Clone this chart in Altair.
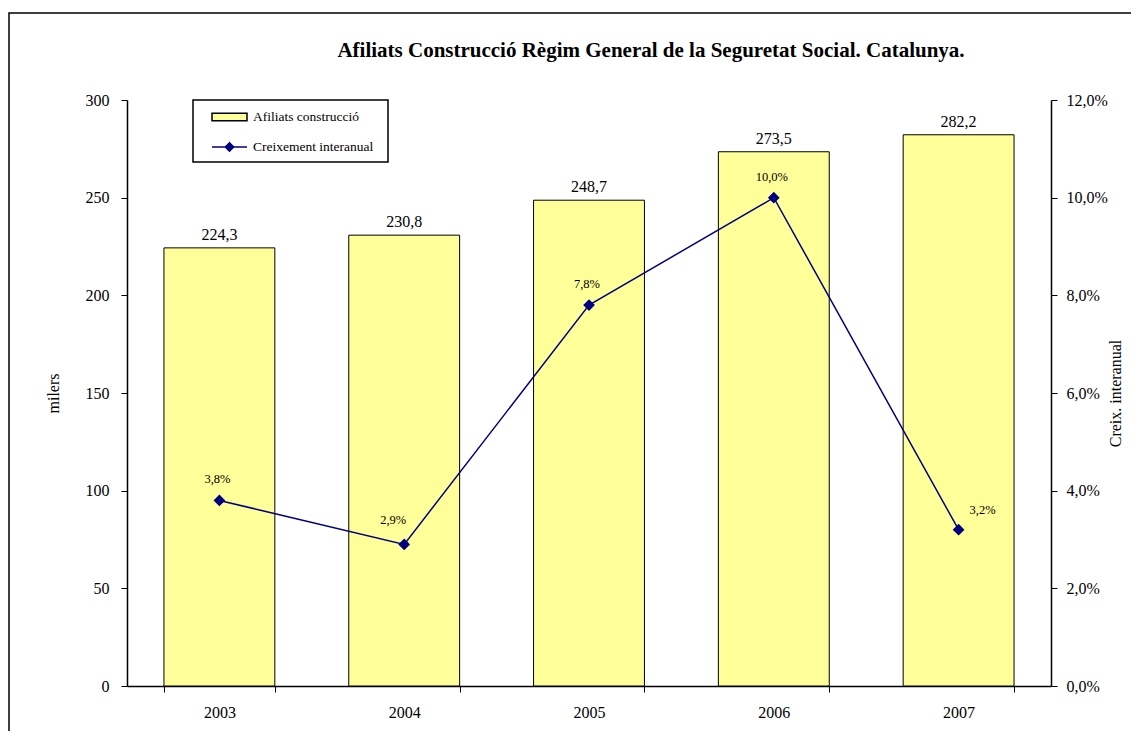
import altair as alt
import pandas as pd

years = ["2003", "2004", "2005", "2006", "2007"]
afiliats = [224.3, 230.8, 248.7, 273.5, 282.2]
creixement = [3.8, 2.9, 7.8, 10.0, 3.2]
series_bar = ["Afiliats construcció"]
series_line = ["Creixement interanual"]
left_ticks = [0, 50, 100, 150, 200, 250, 300]
right_ticks = [0, 2, 4, 6, 8, 10, 12]

FONT = "Liberation Serif"
YELLOW = "#FFFF99"
NAVY = "#000080"

df = pd.DataFrame({"year": years, "afiliats": afiliats, "creix": creixement})


def legend_def(y, shape, stroke, fill):
    return alt.Legend(
        title=None,
        orient="none",
        legendX=84,
        legendY=y,
        padding=0,
        labelFont=FONT,
        labelFontSize=13.5,
        labelColor="black",
        labelOffset=5,
        symbolSize=1225,
        symbolType=shape,
        symbolStrokeColor=stroke,
        symbolFillColor=fill,
        symbolStrokeWidth=1.5,
        symbolOpacity=1,
        clipHeight=16,
    )


base = alt.Chart(df).encode(
    x=alt.X(
        "year:N",
        title=None,
        scale=alt.Scale(paddingInner=0.4, paddingOuter=0.2),
        axis=alt.Axis(
            labelAngle=0,
            labelFont=FONT,
            labelFontSize=16,
            labelColor="black",
            labelPadding=12,
            tickBand="extent",
            tickSize=6,
            tickColor="black",
            domainColor="black",
            domainWidth=1.5,
            grid=False,
        ),
    )
)

y_left = alt.Y(
    "afiliats:Q",
    scale=alt.Scale(domain=[0, 300], nice=False),
    axis=alt.Axis(
        title="milers",
        titleFont=FONT,
        titleFontSize=16,
        titleFontWeight="normal",
        titleColor="black",
        titlePadding=24,
        values=left_ticks,
        labelFont=FONT,
        labelFontSize=16,
        labelColor="black",
        labelPadding=12,
        tickSize=6,
        tickColor="black",
        domainColor="black",
        domainWidth=1.5,
        grid=False,
        orient="left",
    ),
)

y_right = alt.Y(
    "creix:Q",
    scale=alt.Scale(domain=[0, 12], nice=False),
    axis=alt.Axis(
        title="Creix. interanual",
        titleFont=FONT,
        titleFontSize=16,
        titleFontWeight="normal",
        titleColor="black",
        titleAngle=270,
        titlePadding=16,
        values=right_ticks,
        labelExpr="replace(format(datum.value, '.1f'), '.', ',') + '%'",
        labelFont=FONT,
        labelFontSize=16,
        labelColor="black",
        labelPadding=9,
        tickSize=6,
        tickColor="black",
        domainColor="black",
        domainWidth=1.5,
        grid=False,
        orient="right",
    ),
)

bars = base.mark_bar(stroke="black", strokeWidth=1, opacity=1).transform_calculate(
    serie="'Afiliats construcció'"
).encode(
    fill=alt.Fill(
        "serie:N",
        scale=alt.Scale(domain=series_bar, range=[YELLOW]),
        legend=legend_def(9, "M-1,-0.22H1V0.22H-1Z", "black", YELLOW),
    )
)

bar_text = base.mark_text(
    baseline="bottom", dy=-5, font=FONT, fontSize=16, color="black"
).transform_calculate(
    lab="replace(format(datum.afiliats, '.1f'), '.', ',')"
).encode(text="lab:N")

left = alt.layer(bars, bar_text).encode(y=y_left)

line = base.mark_line(
    strokeWidth=1.5,
    point=alt.OverlayMarkDef(shape="diamond", filled=True, fill=NAVY, size=80, opacity=1),
).transform_calculate(serie2="'Creixement interanual'").encode(
    stroke=alt.Stroke(
        "serie2:N",
        scale=alt.Scale(domain=series_line, range=[NAVY]),
        legend=legend_def(39, "M-1,0H1M0,-0.24L0.24,0L0,0.24L-0.24,0Z", NAVY, NAVY),
    )
)

pct_label = "replace(format(datum.creix, '.1f'), '.', ',') + '%'"


def line_label(filter_expr, dx, dy):
    return (
        base.mark_text(baseline="bottom", dx=dx, dy=dy, font=FONT, fontSize=12.5, color="black")
        .transform_filter(filter_expr)
        .transform_calculate(lab=pct_label)
        .encode(text="lab:N")
    )


line_text_mid = line_label("datum.year != '2004' && datum.year != '2007'", -2, -14)
line_text_2004 = line_label("datum.year == '2004'", -11, -17)
line_text_2007 = line_label("datum.year == '2007'", 24, -13)

right = alt.layer(line, line_text_mid, line_text_2004, line_text_2007).encode(y=y_right)

one = pd.DataFrame({"a": [0]})

frame = alt.Chart(one).mark_rect(
    filled=False, stroke="black", strokeWidth=1.5
).encode(
    x=alt.value(-118), x2=alt.value(1100), y=alt.value(-87), y2=alt.value(700)
)

legend_box = alt.Chart(one).mark_rect(
    fill="white", stroke="black", strokeWidth=1.5
).encode(
    x=alt.value(66), x2=alt.value(261), y=alt.value(0), y2=alt.value(62)
)

chart = (
    alt.layer(frame, legend_box, left, right)
    .resolve_scale(y="independent")
    .properties(
        width=924,
        height=586,
        autosize=alt.AutoSizeParams(type="none"),
        padding={"left": 119, "top": 92, "right": 80, "bottom": 45},
        title=alt.TitleParams(
            text="Afiliats  Construcció Règim General de la Seguretat Social. Catalunya.",
            font=FONT,
            fontSize=21,
            fontWeight="bold",
            color="black",
            anchor="middle",
            dx=62,
            baseline="alphabetic",
            offset=-66,
        ),
    )
    .configure_view(strokeOpacity=0, strokeWidth=0)
    .configure_axis(grid=False, gridOpacity=0)
    .configure_axisTop(domainOpacity=0, tickOpacity=0)
    .configure(background="white", style={"cell": {"stroke": "transparent", "strokeWidth": 0}})
)

chart.save("out.html", embed_options={"renderer": "svg", "actions": False})
